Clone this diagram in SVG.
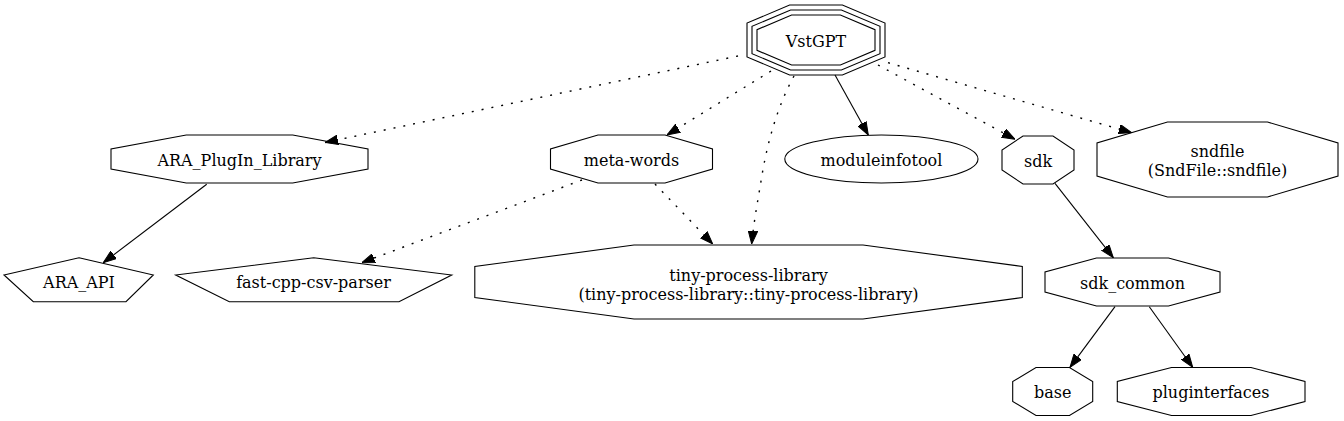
<svg xmlns="http://www.w3.org/2000/svg" width="1344" height="421" viewBox="0 0 1344 421">
<style>
.n{fill:none;stroke:#000;stroke-width:1.1}
.t{font-family:"DejaVu Serif",serif;font-size:16px;fill:#000;text-anchor:middle}
.e{fill:none;stroke:#000;stroke-width:1.1}
.d{stroke-width:1.4;stroke-dasharray:2,8}
</style>
<defs>
<marker id="ah" viewBox="0 0 13 10" refX="13" refY="5" markerWidth="13" markerHeight="10" markerUnits="userSpaceOnUse" orient="auto">
<path d="M0,0.3 L13,5 L0,9.7 z" fill="#000" stroke="#000" stroke-width="1"/>
</marker>
</defs>
<rect width="1344" height="421" fill="#fff"/>
<g id="connectors">
<path class="e d" d="M738,56 L325,142.5" marker-end="url(#ah)"/>
<path class="e d" d="M771,71 L667,135" marker-end="url(#ah)"/>
<path class="e d" d="M794,76 C778,105 768,140 762,175 C758,200 754,220 751.7,244" marker-end="url(#ah)"/>
<path class="e" d="M835,75 L868.3,135" marker-end="url(#ah)"/>
<path class="e d" d="M878,65 L1015,139.3" marker-end="url(#ah)"/>
<path class="e d" d="M888,62.7 L1131.7,132.7" marker-end="url(#ah)"/>
<path class="e d" d="M655,184 L712.7,244" marker-end="url(#ah)"/>
<path class="e d" d="M582,180 L361.7,262.7" marker-end="url(#ah)"/>
<path class="e" d="M206.7,184.3 L103.3,262.7" marker-end="url(#ah)"/>
<path class="e" d="M1055,183.3 L1113.3,257.7" marker-end="url(#ah)"/>
<path class="e" d="M1115,306.7 L1070,367.3" marker-end="url(#ah)"/>
<path class="e" d="M1149.3,306.7 L1192.7,367.3" marker-end="url(#ah)"/>
</g>
<g id="VstGPT">
<polygon class="n" points="791.6,15 840.4,15 875,29.65 875,50.35 840.4,65 791.6,65 757,50.35 757,29.65"/>
<polygon class="n" points="790.6,10 841.4,10 880,26.3 880,53.7 841.4,70 790.6,70 752,53.7 752,26.3"/>
<polygon class="n" points="789.6,5 842.4,5 885,23.1 885,56.9 842.4,75 789.6,75 747,56.9 747,23.1"/>
<text class="t" x="816" y="47">VstGPT</text>
</g>
<g id="ARA_PlugIn_Library">
<polygon class="n" points="186.3,135 292.7,135 368,149 368,169 292.7,183 186.3,183 111,169 111,149"/>
<text class="t" x="239.5" y="166">ARA_PlugIn_Library</text>
</g>
<g id="meta-words">
<polygon class="n" points="598,135 665,135 712.5,149 712.5,169 665,183 598,183 550.5,169 550.5,149"/>
<text class="t" x="631.5" y="166">meta-words</text>
</g>
<g id="moduleinfotool">
<ellipse class="n" cx="881.4" cy="159" rx="96.6" ry="24"/>
<text class="t" x="881.4" y="166">moduleinfotool</text>
</g>
<g id="sdk">
<polygon class="n" points="1023,136 1053,136 1074,150 1074,170 1053,184 1023,184 1002,170 1002,150"/>
<text class="t" x="1038" y="167">sdk</text>
</g>
<g id="sndfile">
<polygon class="n" points="1167.5,122 1267.5,122 1338,143 1338,176 1267.5,197 1167.5,197 1097,176 1097,143"/>
<text class="t" x="1217.5" y="156.5">sndfile</text>
<text class="t" x="1217.5" y="175.5">(SndFile::sndfile)</text>
</g>
<g id="ARA_API">
<polygon class="n" points="79,257.7 153.3,275 126,301.7 33.3,301.7 4,275"/>
<text class="t" x="79" y="288">ARA_API</text>
</g>
<g id="fast-cpp-csv-parser">
<polygon class="n" points="313.7,257.7 451.7,275 399,301.7 229.3,301.7 175.7,275"/>
<text class="t" x="313.5" y="288">fast-cpp-csv-parser</text>
</g>
<g id="tiny-process-library">
<polygon class="n" points="634,245 863,245 1022.3,266.5 1022.3,297.5 863,319 634,319 474.8,297.5 474.8,266.5"/>
<text class="t" x="748.5" y="280.5">tiny-process-library</text>
<text class="t" x="748.5" y="299.5">(tiny-process-library::tiny-process-library)</text>
</g>
<g id="sdk_common">
<polygon class="n" points="1096.5,258 1168.5,258 1220,272 1220,292 1168.5,306 1096.5,306 1045,292 1045,272"/>
<text class="t" x="1132.5" y="289">sdk_common</text>
</g>
<g id="base">
<polygon class="n" points="1036,367.5 1069.5,367.5 1092.7,381.5 1092.7,401.5 1069.5,415.5 1036,415.5 1012.7,401.5 1012.7,381.5"/>
<text class="t" x="1052.7" y="398">base</text>
</g>
<g id="pluginterfaces">
<polygon class="n" points="1171.5,367.5 1251,367.5 1305,381.5 1305,401.5 1251,415.5 1171.5,415.5 1117.3,401.5 1117.3,381.5"/>
<text class="t" x="1211" y="398">pluginterfaces</text>
</g>
</svg>
